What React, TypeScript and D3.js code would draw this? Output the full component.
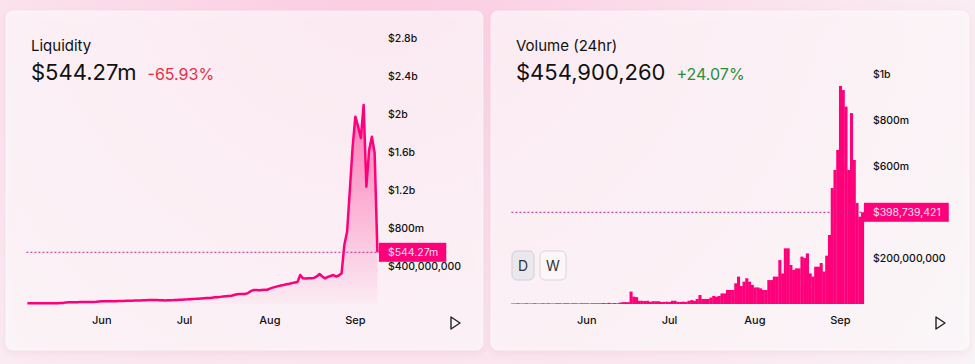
import { useEffect, useRef } from "react";
import * as d3 from "d3";

const width = 975;
const height = 364;

// daily points, first day of data
const startDate = new Date(2021, 4, 5);

// TVL in millions of USD
const liquidity = [
  8, 8, 8, 8, 8, 8, 9, 9, 9, 9, 9, 9, 10, 10,
  17, 18, 18, 19, 19, 20, 20, 21, 21, 22, 22, 23,
  27, 28, 28, 29, 29, 30, 30, 31, 32, 32, 33, 34, 35, 36, 37, 38, 39, 40, 41,
  42, 42, 41,
  39, 39, 38, 39, 40, 41,
  43, 45, 46, 48, 49, 51, 53, 54,
  56, 58, 60, 62, 64, 67, 70, 72, 75, 78, 81, 84,
  87, 95, 102, 104, 105,
  106, 115, 135, 147,
  147, 145, 148, 150,
  150, 162,
  172, 180, 188, 194,
  200, 207, 213, 220, 226,
  232, 305, 270, 268, 272, 270, 275, 290, 316, 290, 270, 285, 295, 305, 290, 300, 323,
  620, 760, 1200, 1650, 1972, 1867, 1747, 2095, 1235, 1621, 1761, 1589, 544.27,
];

// daily volume in millions of USD
const volume = [
  2, 2, 3, 2, 2, 3, 2, 2, 3, 2, 2, 3, 2, 3, 2, 2, 3, 3, 2, 3, 3, 2, 3, 3, 2, 3, 3, 3, 2, 3, 3, 3, 3, 4, 3,
  5, 3, 4, 3, 6, 8, 8, 8, 54, 32, 30,
  14, 14, 13, 14, 10, 12, 12, 12, 9, 9, 10, 9,
  14, 14, 9, 9, 10, 9, 14, 17, 14, 22,
  39, 22, 22, 22, 28, 35, 32, 35, 46, 46,
  61, 61, 61, 90, 119, 78, 97, 112, 97, 83,
  72, 72, 68, 61, 61, 104, 104, 119, 119,
  191, 133, 242, 242, 170, 148, 155, 155, 206, 200, 220, 133, 119, 162, 162, 178, 141, 210, 300,
  504, 583, 670, 948, 930, 858, 583, 830, 626, 439, 380, 398.739421,
];

const monthTicks = [new Date(2021, 5, 1), new Date(2021, 6, 1), new Date(2021, 7, 1), new Date(2021, 8, 1)];
const monthLabels = ["Jun", "Jul", "Aug", "Sep"];

const liqTicks = [400, 800, 1200, 1600, 2000, 2400, 2800];
const liqTickLabels = ["$400,000,000", "$800m", "$1.2b", "$1.6b", "$2b", "$2.4b", "$2.8b"];
// the $400m tick sits behind the hover label, so it is not shown
const volTicks = [200, 600, 800, 1000];
const volTickLabels = ["$200,000,000", "$600m", "$800m", "$1b"];

const pink = "#ff007a";
const font = "Inter, 'Noto Sans', sans-serif";

const dates = liquidity.map((_, i) => d3.timeDay.offset(startDate, i));

const App = () => {
  const ref = useRef<SVGSVGElement>(null);

  useEffect(() => {
    const svg = d3.select(ref.current);
    svg.selectAll("*").remove();

    const defs = svg.append("defs");

    // page background: pink glow from the top
    const bg = defs.append("radialGradient").attr("id", "bg")
      .attr("gradientUnits", "userSpaceOnUse")
      .attr("cx", 380).attr("cy", -60).attr("r", 760);
    bg.append("stop").attr("offset", 0).attr("stop-color", "#fbcadf");
    bg.append("stop").attr("offset", 0.45).attr("stop-color", "#fbe0ec");
    bg.append("stop").attr("offset", 1).attr("stop-color", "#f8f5f7");

    const areaGrad = defs.append("linearGradient").attr("id", "liqFill")
      .attr("gradientUnits", "userSpaceOnUse")
      .attr("x1", 0).attr("x2", 0).attr("y1", 100).attr("y2", 304);
    areaGrad.append("stop").attr("offset", 0).attr("stop-color", pink).attr("stop-opacity", 0.5);
    areaGrad.append("stop").attr("offset", 1).attr("stop-color", pink).attr("stop-opacity", 0.02);

    const shadow = defs.append("filter").attr("id", "shadow")
      .attr("x", "-10%").attr("y", "-10%").attr("width", "120%").attr("height", "125%");
    shadow.append("feDropShadow").attr("dx", 0).attr("dy", 3).attr("stdDeviation", 4)
      .attr("flood-color", "#d89ab6").attr("flood-opacity", 0.3);

    svg.append("rect").attr("width", width).attr("height", height).attr("fill", "url(#bg)");

    // cards
    const cards = [
      { x: 6, w: 477 },
      { x: 491, w: 478 },
    ];
    cards.forEach((c) => {
      svg.append("rect")
        .attr("x", c.x).attr("y", 11).attr("width", c.w).attr("height", 339)
        .attr("rx", 7)
        .attr("fill", "#ffffff").attr("fill-opacity", 0.6)
        .attr("stroke", "#ffffff").attr("stroke-opacity", 0.5)
        .attr("filter", "url(#shadow)");
    });

    const drawPanel = (ox: number, title: string, value: string, change: string, changeColor: string) => {
      const g = svg.append("g").attr("transform", `translate(${ox},0)`);
      g.append("text").attr("x", 31).attr("y", 51).text(title)
        .attr("font-family", font).attr("font-size", 15).attr("fill", "#111");
      const v = g.append("text").attr("x", 31).attr("y", 80).text(value)
        .attr("font-family", font).attr("font-size", 22).attr("fill", "#111");
      const vw = (v.node() as SVGTextElement).getComputedTextLength();
      g.append("text").attr("x", 31 + vw + 11).attr("y", 80).text(change)
        .attr("font-family", font).attr("font-size", 16).attr("fill", changeColor);

      // play icon
      g.append("path").attr("d", "M451,317 L460,323 L451,329 Z")
        .attr("fill", "none").attr("stroke", "#222").attr("stroke-width", 1.4)
        .attr("stroke-linejoin", "round");
      return g;
    };

    const axes = (
      g: d3.Selection<SVGGElement, unknown, null, undefined>,
      x: d3.ScaleTime<number, number>,
      y: d3.ScaleLinear<number, number>,
      ticks: number[],
      labels: string[]
    ) => {
      g.selectAll("text.xt").data(monthTicks).join("text")
        .attr("class", "xt")
        .attr("x", (d) => x(d)).attr("y", 324)
        .attr("text-anchor", "middle")
        .attr("font-family", font).attr("font-size", 11).attr("font-weight", 500)
        .attr("fill", "#111")
        .text((_, i) => monthLabels[i]);
      g.selectAll("text.yt").data(ticks).join("text")
        .attr("class", "yt")
        .attr("x", x.range()[1] + 10.5).attr("y", (d) => y(d)).attr("dy", "0.35em")
        .attr("font-family", font).attr("font-size", 10.5).attr("font-weight", 500)
        .attr("fill", "#111")
        .text((_, i) => labels[i]);
    };

    const marker = (
      g: d3.Selection<SVGGElement, unknown, null, undefined>,
      x: d3.ScaleTime<number, number>,
      yPos: number,
      label: string
    ) => {
      const [x0, x1] = x.range();
      g.append("line")
        .attr("x1", x0 - 1).attr("x2", x1 + 1.5)
        .attr("y1", yPos).attr("y2", yPos)
        .attr("stroke", "#c4248a").attr("stroke-width", 1)
        .attr("stroke-dasharray", "2,2");
      const box = g.append("rect").attr("x", x1 + 1.5).attr("y", yPos - 9.5).attr("height", 19)
        .attr("fill", pink);
      const t = g.append("text").attr("x", x1 + 10.5).attr("y", yPos).attr("dy", "0.35em")
        .attr("font-family", font).attr("font-size", 10.5)
        .attr("fill", "#ffe3f0").text(label);
      box.attr("width", (t.node() as SVGTextElement).getComputedTextLength() + 17);
    };

    // Liquidity panel
    const left = drawPanel(0, "Liquidity", "$544.27m", "-65.93%", "#ee2a45");
    const xL = d3.scaleTime().domain([dates[0], dates[dates.length - 1]]).range([27.4, 377.4]);
    const yL = d3.scaleLinear().domain([0, 2800]).range([304, 38]);

    const area = d3.area<number>()
      .x((_, i) => xL(dates[i]))
      .y0(yL(0))
      .y1((d) => yL(d));
    left.append("path").datum(liquidity).attr("d", area).attr("fill", "url(#liqFill)");

    const line = d3.line<number>()
      .x((_, i) => xL(dates[i]))
      .y((d) => yL(d));
    left.append("path").datum(liquidity).attr("d", line)
      .attr("fill", "none").attr("stroke", pink).attr("stroke-width", 2.5)
      .attr("stroke-linejoin", "round");

    axes(left, xL, yL, liqTicks, liqTickLabels);
    marker(left, xL, yL(liquidity[liquidity.length - 1]), "$544.27m");

    // Volume panel
    const right = drawPanel(485, "Volume (24hr)", "$454,900,260", "+24.07%", "#2a8f3a");
    const xR = d3.scaleTime().domain([dates[0], dates[dates.length - 1]]).range([27.4, 377.4]);
    const yR = d3.scaleLinear().domain([0, 1000]).range([304, 74]);
    const bw = (xR.range()[1] - xR.range()[0]) / (dates.length - 1);

    right.selectAll("rect.bar").data(volume).join("rect")
      .attr("class", "bar")
      .attr("x", (_, i) => xR(dates[i]) - bw / 2)
      .attr("width", bw + 0.3)
      .attr("y", (d) => yR(d))
      .attr("height", (d) => yR(0) - yR(d))
      .attr("fill", pink);

    axes(right, xR, yR, volTicks, volTickLabels);
    marker(right, xR, yR(volume[volume.length - 1]), "$398,739,421");

    // D / W toggle
    const toggles = [
      { label: "D", x: 27, w: 22, fill: "#ebe8ed", stroke: "#d4ced4" },
      { label: "W", x: 55, w: 26, fill: "#fdf6f9", stroke: "#dcd3d9" },
    ];
    toggles.forEach((b) => {
      right.append("rect").attr("x", b.x).attr("y", 251).attr("width", b.w).attr("height", 29)
        .attr("rx", 5).attr("fill", b.fill).attr("stroke", b.stroke);
      right.append("text").attr("x", b.x + b.w / 2).attr("y", 266).attr("dy", "0.35em")
        .attr("text-anchor", "middle").attr("font-family", font).attr("font-size", 14)
        .attr("fill", "#333").text(b.label);
    });

    return () => {
      svg.selectAll("*").remove();
    };
  }, []);

  return (
    <div style={{ position: "absolute", left: 0, top: 0 }}>
      <svg ref={ref} width={width} height={height} viewBox={`0 0 ${width} ${height}`} style={{ display: "block" }} />
    </div>
  );
};

export default App;
